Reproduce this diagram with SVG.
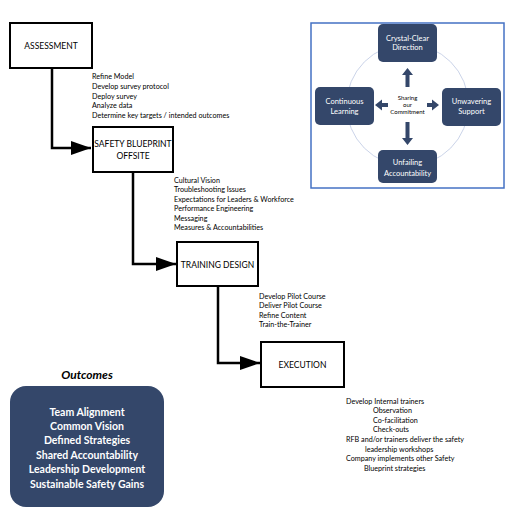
<svg xmlns="http://www.w3.org/2000/svg" width="515" height="519" viewBox="0 0 515 519">
<style>
.node{fill:#fff;stroke:#000;stroke-width:2}
.nt{font-family:Lato,"Liberation Sans",sans-serif;font-size:8.5px;fill:#000;text-anchor:middle}
.note{font-family:Lato,"Liberation Sans",sans-serif;font-size:7.2px;fill:#000}
.conn{fill:none;stroke:#000;stroke-width:2.5}
.pbox{fill:#34476a;stroke:none}
.pt{font-family:Lato,"Liberation Sans",sans-serif;font-size:7.5px;fill:#fff;text-anchor:middle}
.ot{font-family:Lato,"Liberation Sans",sans-serif;font-size:10.5px;font-weight:bold;fill:#fff;text-anchor:middle}
.blk{fill:#34476a}
.ct{font-family:Lato,"Liberation Sans",sans-serif;font-size:6px;fill:#000;text-anchor:middle}
</style>
<defs>
<marker id="ah" markerWidth="8" markerHeight="5.6" refX="8" refY="2.8" orient="auto" markerUnits="strokeWidth">
<path d="M0,0 L8,2.8 L0,5.6 Z" fill="#000"/>
</marker>
</defs>
<rect width="515" height="519" fill="#fff"/>
<g id="connectors">
<path class="conn" d="M52,68 V148 H91" marker-end="url(#ah)"/>
<path class="conn" d="M133,172 V264 H176" marker-end="url(#ah)"/>
<path class="conn" d="M218,286 V363 H260" marker-end="url(#ah)"/>
</g>
<g id="assessment">
<rect class="node" x="10" y="23" width="82" height="45"/>
<text class="nt" x="51" y="49">ASSESSMENT</text>
</g>
<g id="safety-blueprint">
<rect class="node" x="93" y="127" width="80" height="45"/>
<text class="nt" x="133" y="147">SAFETY BLUEPRINT</text>
<text class="nt" x="133" y="159">OFFSITE</text>
</g>
<g id="training-design">
<rect class="node" x="177" y="242" width="81" height="44"/>
<text class="nt" x="217.5" y="268">TRAINING DESIGN</text>
</g>
<g id="execution">
<rect class="node" x="261" y="342" width="83" height="45"/>
<text class="nt" x="302.5" y="368">EXECUTION</text>
</g>
<g id="notes">
<text class="note" x="92" y="79">Refine Model</text>
<text class="note" x="92" y="89">Develop survey protocol</text>
<text class="note" x="92" y="99">Deploy survey</text>
<text class="note" x="92" y="108">Analyze data</text>
<text class="note" x="92" y="118">Determine key targets / intended outcomes</text>
<text class="note" x="174" y="183">Cultural Vision</text>
<text class="note" x="174" y="192">Troubleshooting Issues</text>
<text class="note" x="174" y="202">Expectations for Leaders &amp; Workforce</text>
<text class="note" x="174" y="211">Performance Engineering</text>
<text class="note" x="174" y="221">Messaging</text>
<text class="note" x="174" y="230">Measures &amp; Accountabilities</text>
<text class="note" x="259" y="299">Develop Pilot Course</text>
<text class="note" x="259" y="308">Deliver Pilot Course</text>
<text class="note" x="259" y="318">Refine Content</text>
<text class="note" x="259" y="327">Train-the-Trainer</text>
<text class="note" x="346" y="404">Develop Internal trainers</text>
<text class="note" x="373" y="413">Observation</text>
<text class="note" x="373" y="423">Co-facilitation</text>
<text class="note" x="373" y="432">Check-outs</text>
<text class="note" x="346" y="442">RFB and/or trainers deliver the safety</text>
<text class="note" x="365" y="452">leadership workshops</text>
<text class="note" x="346" y="461">Company implements other Safety</text>
<text class="note" x="364" y="471">Blueprint strategies</text>
</g>
<g id="outcomes">
<text x="87" y="379" font-family="Lato,'Liberation Sans',sans-serif" font-size="12px" font-weight="bold" font-style="italic" text-anchor="middle" fill="#000">Outcomes</text>
<rect x="10" y="386" width="154" height="121" rx="16" fill="#34476a"/>
<text class="ot" x="87" y="416">Team Alignment</text>
<text class="ot" x="87" y="430">Common Vision</text>
<text class="ot" x="87" y="444">Defined Strategies</text>
<text class="ot" x="87" y="459">Shared Accountability</text>
<text class="ot" x="87" y="473">Leadership Development</text>
<text class="ot" x="87" y="488">Sustainable Safety Gains</text>
</g>
<g id="commitment-panel">
<rect x="311" y="23" width="193" height="165" fill="#fff" stroke="#4472c4" stroke-width="1.5"/>
<circle cx="407.5" cy="105" r="61" fill="none" stroke="#bcc8e2" stroke-width="0.8"/>
<g id="crystal-clear">
<rect class="pbox" x="378" y="24" width="59" height="38" rx="5"/>
<text class="pt" x="407.5" y="41">Crystal-Clear</text>
<text class="pt" x="407.5" y="50">Direction</text>
</g>
<g id="continuous-learning">
<rect class="pbox" x="315" y="87" width="59" height="38" rx="5"/>
<text class="pt" x="344.5" y="104">Continuous</text>
<text class="pt" x="344.5" y="114">Learning</text>
</g>
<g id="unwavering-support">
<rect class="pbox" x="442" y="88" width="59" height="38" rx="5"/>
<text class="pt" x="471.5" y="104">Unwavering</text>
<text class="pt" x="471.5" y="114">Support</text>
</g>
<g id="unfailing-accountability">
<rect class="pbox" x="378" y="150" width="59" height="33" rx="5"/>
<text class="pt" x="407.5" y="165">Unfailing</text>
<text class="pt" x="407.5" y="176">Accountability</text>
</g>
<g id="center-arrows" class="blk">
<path d="M405.5,87 V75 H402 L407.5,68 L413,75 H409.5 V87 Z"/>
<path d="M405.5,122 V138 H402 L407.5,145 L413,138 H409.5 V122 Z"/>
<path d="M388,103 H382 V99.5 L375,105 L382,110.5 V107 H388 Z"/>
<path d="M427,103 H432 V99.5 L439,105 L432,110.5 V107 H427 Z"/>
</g>
<text class="ct" x="407.5" y="100">Sharing</text>
<text class="ct" x="407.5" y="107">our</text>
<text class="ct" x="407.5" y="114">Commitment</text>
</g>
</svg>
